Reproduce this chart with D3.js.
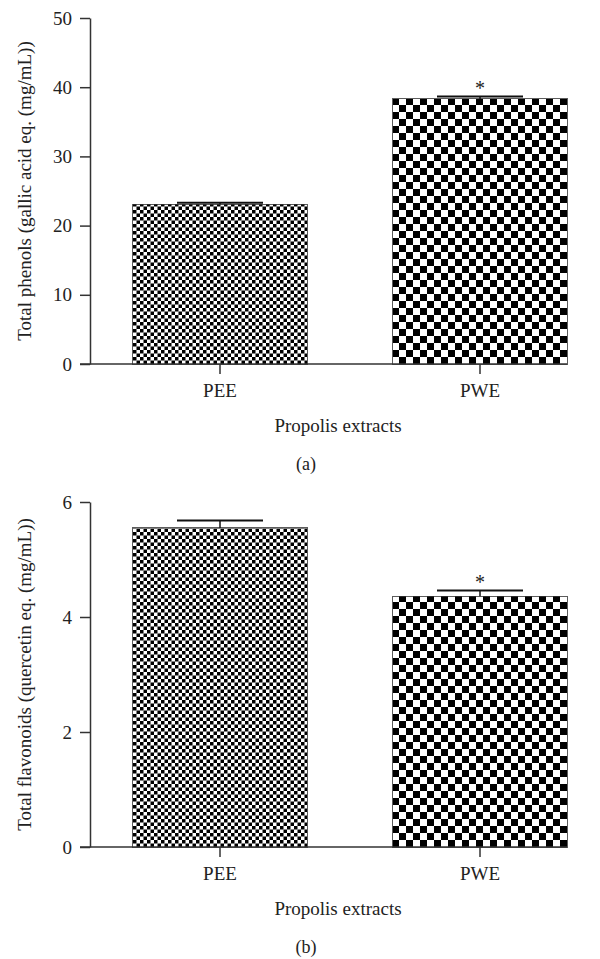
<!DOCTYPE html>
<html>
<head>
<meta charset="utf-8">
<script src="https://cdn.jsdelivr.net/npm/d3@7"></script>
<style>
  body { margin: 0; background: #fff; }
  svg text { font-family: "Liberation Serif", "DejaVu Serif", serif; fill: #222; }
</style>
</head>
<body>
<svg id="chart" width="600" height="959"></svg>
<script>
// data
var categories = ["PEE", "PWE"];
var phenols = [23.1, 38.3];
var phenolsErr = [0.2, 0.35];
var phenolTicks = [0, 10, 20, 30, 40, 50];
var flavonoids = [5.55, 4.36];
var flavonoidsErr = [0.13, 0.1];
var flavonoidTicks = [0, 2, 4, 6];
var significant = [false, true];

var svg = d3.select("#chart");
var defs = svg.append("defs");

// checkerboard fills: fine for PEE, coarse for PWE
function checker(id, cell) {
    var p = defs.append("pattern")
        .attr("id", id)
        .attr("patternUnits", "userSpaceOnUse")
        .attr("width", cell * 2)
        .attr("height", cell * 2);
    p.append("rect").attr("width", cell * 2).attr("height", cell * 2).attr("fill", "#fff");
    p.append("rect").attr("width", cell).attr("height", cell).attr("fill", "#000");
    p.append("rect").attr("x", cell).attr("y", cell).attr("width", cell).attr("height", cell).attr("fill", "#000");
}
checker("fine", 3.5);
checker("coarse", 7);
var fills = ["url(#fine)", "url(#coarse)"];

var fontSize = "19px";

function drawPanel(cfg) {
    var x = d3.scaleBand()
        .domain(categories)
        .range([90, 610])
        .paddingInner(0.33)
        .paddingOuter(0.165);

    var y = d3.scaleLinear()
        .domain([0, d3.max(cfg.ticks)])
        .range([cfg.bottom, cfg.top]);

    var g = svg.append("g");

    // bars
    g.selectAll(".bar")
        .data(cfg.values)
        .enter().append("rect")
        .attr("class", "bar")
        .attr("x", function (d, i) { return x(categories[i]); })
        .attr("y", function (d) { return y(d); })
        .attr("width", x.bandwidth())
        .attr("height", function (d) { return y(0) - y(d); })
        .attr("fill", function (d, i) { return fills[i]; })
        .attr("stroke", "#333")
        .attr("stroke-width", 0.8)
        .attr("shape-rendering", "crispEdges");

    // error bars (upper only)
    var capHalf = 43;
    cfg.values.forEach(function (v, i) {
        var cx = x(categories[i]) + x.bandwidth() / 2;
        g.append("line")
            .attr("x1", cx).attr("x2", cx)
            .attr("y1", y(v)).attr("y2", y(v + cfg.errs[i]))
            .attr("stroke", "#111").attr("stroke-width", 1.5);
        g.append("line")
            .attr("x1", cx - capHalf).attr("x2", cx + capHalf)
            .attr("y1", y(v + cfg.errs[i])).attr("y2", y(v + cfg.errs[i]))
            .attr("stroke", "#111").attr("stroke-width", 2);
        if (significant[i]) {
            g.append("text")
                .attr("x", cx)
                .attr("y", y(v + cfg.errs[i]) - 2)
                .attr("text-anchor", "middle")
                .style("font-size", "20px")
                .text("*");
        }
    });

    // y axis
    var yAxis = g.append("g")
        .attr("transform", "translate(90,0)")
        .call(d3.axisLeft(y).tickValues(cfg.ticks).tickFormat(d3.format("d"))
            .tickSize(10).tickPadding(8).tickSizeOuter(0));
    yAxis.select(".domain").attr("stroke", "#333").attr("stroke-width", 1.5);
    yAxis.selectAll(".tick line").attr("stroke", "#333").attr("stroke-width", 1.5);
    yAxis.selectAll(".tick text")
        .style("font-size", fontSize)
        .style("font-family", "Liberation Serif, serif")
        .attr("fill", "#222");

    // x axis
    var xAxis = g.append("g")
        .attr("transform", "translate(0," + cfg.bottom + ")")
        .call(d3.axisBottom(x).tickSize(10).tickPadding(10).tickSizeOuter(0));
    xAxis.select(".domain")
        .attr("d", "M80,0H" + (x(categories[1]) + x.bandwidth()))
        .attr("stroke", "#333").attr("stroke-width", 1.5);
    xAxis.selectAll(".tick line").attr("stroke", "#333").attr("stroke-width", 1.5);
    xAxis.selectAll(".tick text")
        .style("font-size", fontSize)
        .style("font-family", "Liberation Serif, serif")
        .attr("fill", "#222");

    // y title
    g.append("text")
        .attr("transform", "translate(24," + ((cfg.top + cfg.bottom) / 2) + ")rotate(-90)")
        .attr("text-anchor", "middle")
        .attr("dy", "0.35em")
        .style("font-size", fontSize)
        .text(cfg.ylabel);

    // x title
    g.append("text")
        .attr("x", 338)
        .attr("y", cfg.bottom + 68)
        .attr("text-anchor", "middle")
        .style("font-size", fontSize)
        .text("Propolis extracts");

    // panel letter
    g.append("text")
        .attr("x", 306)
        .attr("y", cfg.bottom + 106)
        .attr("text-anchor", "middle")
        .style("font-size", "18px")
        .text(cfg.letter);
}

drawPanel({
    top: 18, bottom: 364,
    values: phenols, errs: phenolsErr, ticks: phenolTicks,
    ylabel: "Total phenols (gallic acid eq. (mg/mL))", letter: "(a)"
});

drawPanel({
    top: 502, bottom: 847,
    values: flavonoids, errs: flavonoidsErr, ticks: flavonoidTicks,
    ylabel: "Total flavonoids (quercetin eq. (mg/mL))", letter: "(b)"
});
</script>
</body>
</html>
